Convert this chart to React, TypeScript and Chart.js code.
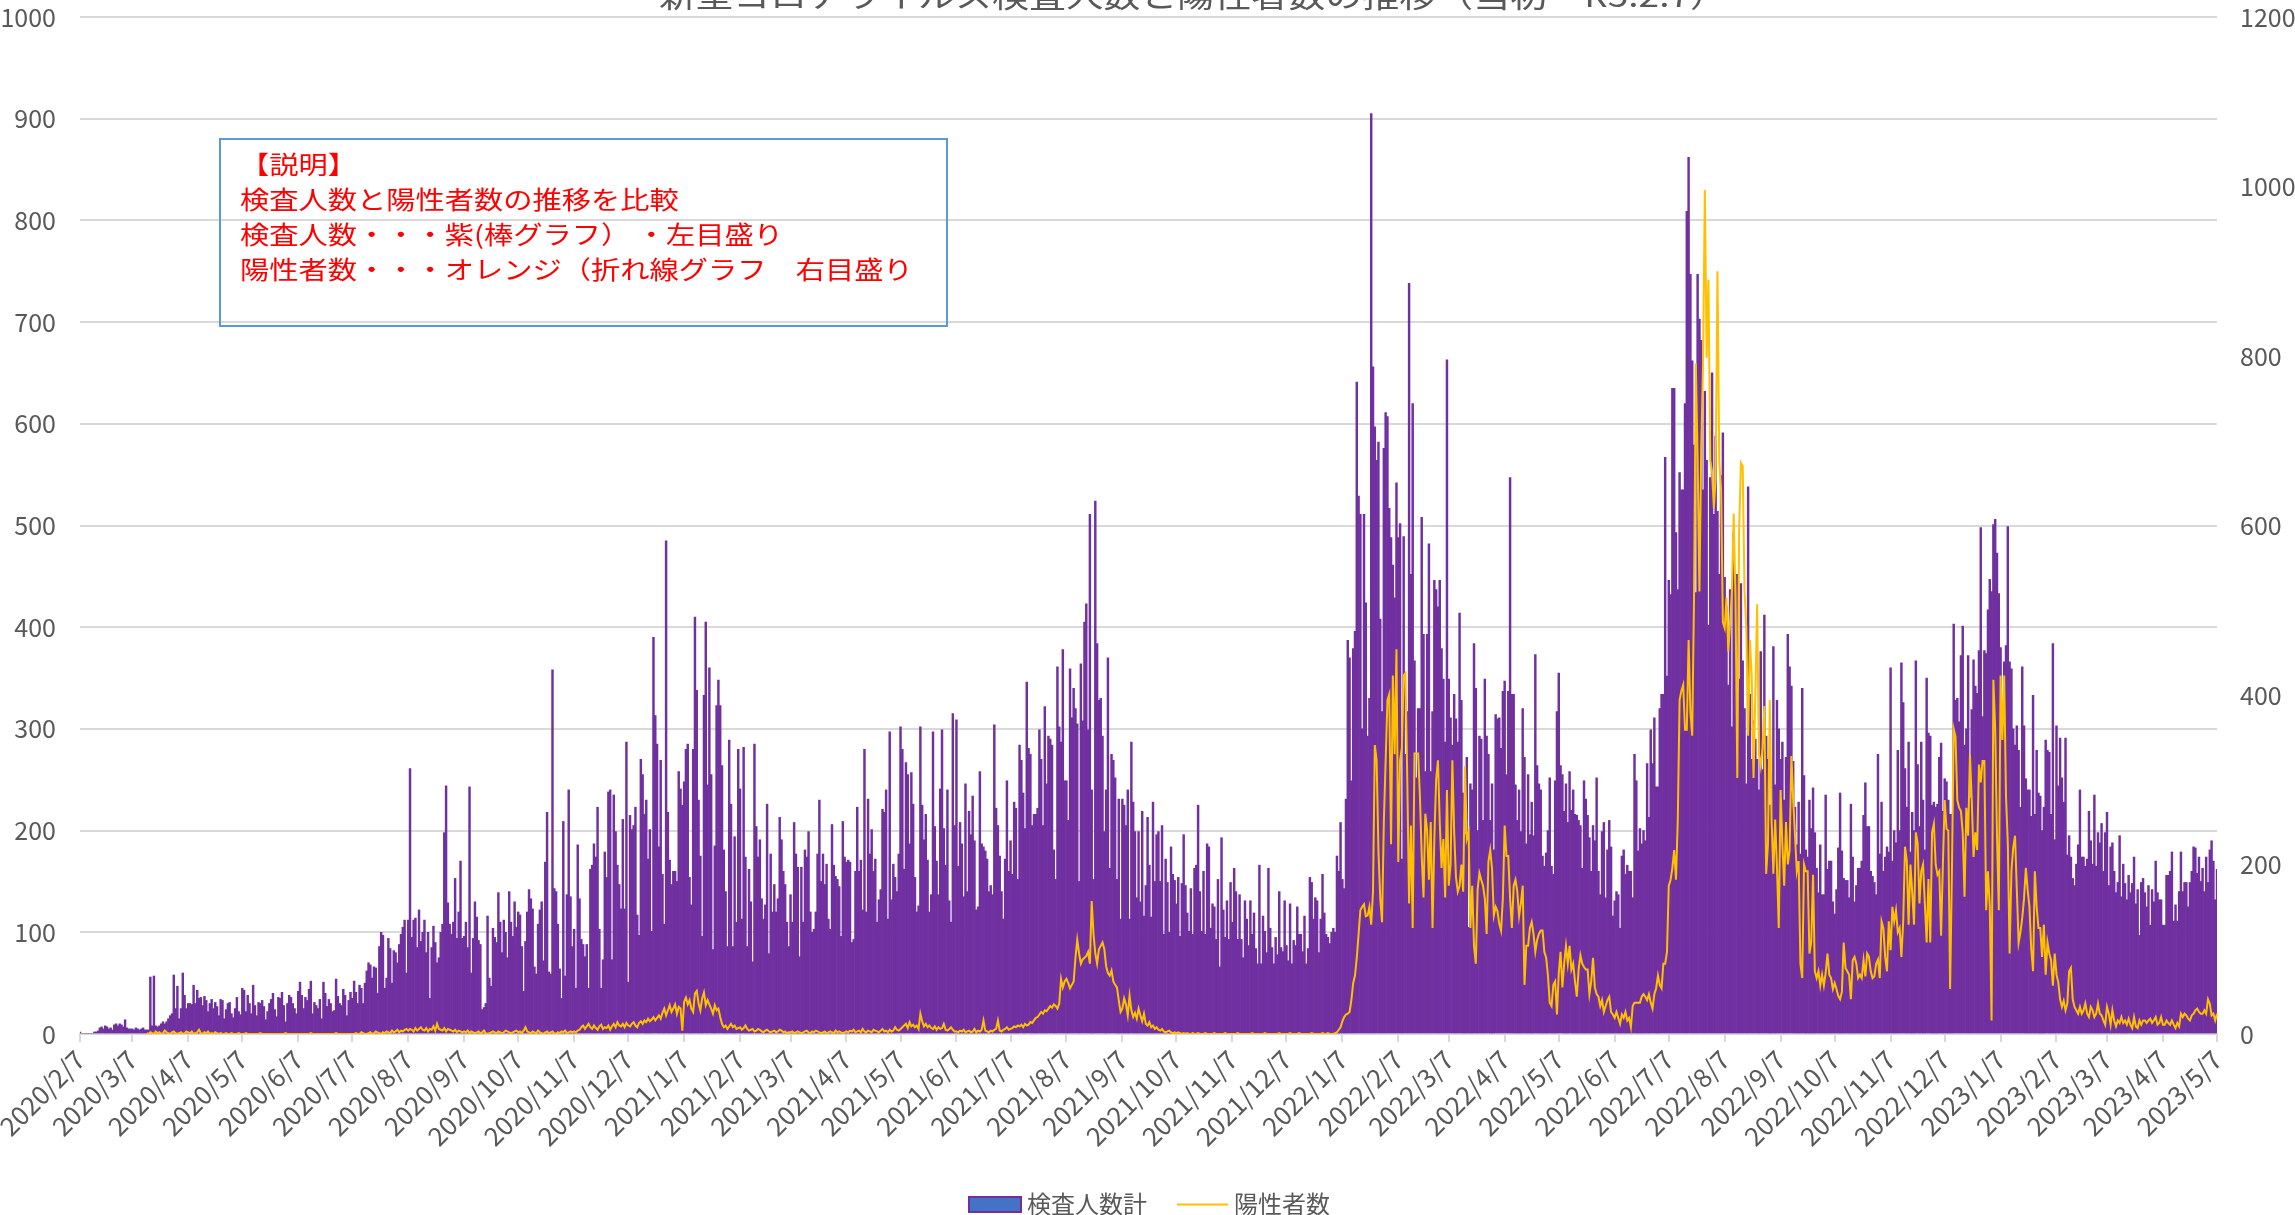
import React, { useEffect, useRef } from "react";
import { Chart, registerables } from "chart.js";

Chart.register(...registerables);

const FONT = '"Noto Sans CJK JP", "Noto Sans", sans-serif';
const TITLE = "新型コロナウイルス検査人数と陽性者数の推移（当初～R5.2.7）";
const NOTE_LINES = [
  "【説明】",
  "検査人数と陽性者数の推移を比較",
  "検査人数・・・紫(棒グラフ） ・左目盛り",
  "陽性者数・・・オレンジ（折れ線グラフ　右目盛り",
];
const SERIES_NAMES = ["検査人数計", "陽性者数"];

const tickLabels = [
  "2020/2/7", "2020/3/7", "2020/4/7", "2020/5/7", "2020/6/7", "2020/7/7", "2020/8/7", "2020/9/7",
  "2020/10/7", "2020/11/7", "2020/12/7", "2021/1/7", "2021/2/7", "2021/3/7", "2021/4/7", "2021/5/7",
  "2021/6/7", "2021/7/7", "2021/8/7", "2021/9/7", "2021/10/7", "2021/11/7", "2021/12/7", "2022/1/7",
  "2022/2/7", "2022/3/7", "2022/4/7", "2022/5/7", "2022/6/7", "2022/7/7", "2022/8/7", "2022/9/7",
  "2022/10/7", "2022/11/7", "2022/12/7", "2023/1/7", "2023/2/7", "2023/3/7", "2023/4/7", "2023/5/7",
];

// 検査人数計 (daily, left axis) — one array per month period (7th to 6th)
const t2020_02 = [2,0,0,0,0,0,0,0,2,2,3,6,7,5,8,7,5,6,4,9,10,8,10,9,7,14,6,5,5];
const t2020_03 = [5,4,6,5,4,5,6,4,4,4,56,8,57,8,7,8,10,12,10,12,15,18,20,58,25,47,15,25,60,38,25];
const t2020_04 = [30,30,29,48,30,43,35,36,28,37,33,22,30,34,25,31,27,18,34,33,15,24,30,31,20,16,25,36,22,19];
const t2020_05 = [45,43,22,38,30,20,48,28,18,31,30,33,27,14,22,30,34,40,24,17,36,35,41,28,12,30,38,36,30,25,20];
const t2020_06 = [42,51,38,25,36,33,44,52,20,31,28,25,34,15,51,40,27,34,30,22,23,54,37,30,28,44,38,18,33,41];
const t2020_07 = [35,52,41,30,48,45,30,50,62,70,68,55,66,65,40,86,100,97,45,55,94,84,50,82,80,70,88,98,105,112,60];
const t2020_08 = [112,261,95,112,114,85,122,91,100,112,80,100,35,85,106,90,70,75,100,108,198,244,129,108,98,110,153,94,120,170,94];
const t2020_09 = [96,110,85,243,60,94,130,115,92,88,24,26,30,116,55,47,104,95,90,139,110,80,112,100,75,140,110,96,130,105];
const t2020_10 = [120,117,86,42,91,120,142,133,123,66,59,108,122,130,72,169,218,61,59,358,143,140,108,64,35,209,57,137,240,135,86];
const t2020_11 = [103,45,186,133,93,88,76,88,45,162,166,187,174,223,103,45,73,179,154,238,240,73,235,199,166,147,123,211,123,287];
const t2020_12 = [51,215,201,205,223,117,97,270,255,216,230,172,201,101,390,313,285,184,269,157,108,485,218,171,147,160,160,150,258,241,225];
const t2021_01 = [248,280,285,154,127,280,410,338,230,175,96,333,405,245,360,255,83,185,323,348,323,264,181,140,86,289,226,86,194,110,280];
const t2021_02 = [241,113,282,174,86,162,130,71,285,204,174,191,133,113,127,226,79,177,120,147,120,133,213,191,160,147,110,86];
const t2021_03 = [137,110,208,177,164,76,164,110,181,174,199,120,100,103,120,177,230,150,177,147,167,113,103,206,166,155,152,145,96,209,174];
const t2021_04 = [169,171,169,90,93,160,223,160,171,122,280,120,231,177,201,160,172,110,132,142,221,218,240,113,297,132,167,154,140,177];
const t2021_05 = [302,280,162,267,255,187,257,226,154,120,126,302,225,191,216,171,120,137,297,204,170,137,241,299,202,166,240,131,110,315,205];
const t2021_06 = [309,165,208,187,135,246,140,219,196,234,190,122,125,258,187,184,180,172,140,146,137,304,222,205,175,140,113,172,249,160];
const t2021_07 = [190,157,228,222,152,284,269,237,202,346,281,275,205,216,216,222,299,270,205,322,246,293,290,284,181,152,361,302,287,378,249];
const t2021_08 = [249,210,359,311,340,320,305,150,364,308,405,423,299,511,240,152,524,384,328,330,293,199,240,370,163,275,269,252,152,231,113];
const t2021_09 = [231,225,205,240,113,287,228,199,134,199,130,219,116,146,213,166,115,228,150,196,199,150,205,98,172,149,100,184,157,151];
const t2021_10 = [128,154,96,148,196,146,119,101,143,98,163,166,225,140,101,160,98,187,184,104,128,125,93,152,66,193,122,95,131,93,149];
const t2021_11 = [110,163,140,93,137,93,75,131,113,87,131,98,119,84,69,166,69,116,101,80,163,104,85,69,95,78,140,85,81,131];
const t2021_12 = [87,72,128,69,92,87,125,98,98,81,116,69,84,154,149,113,134,131,80,113,157,119,98,95,89,100,104,100,175,160,208];
const t2022_01 = [152,143,231,387,370,249,379,396,641,529,511,300,511,424,293,330,905,656,597,564,582,408,317,576,611,607,517,488,461,429,542];
const t2022_02 = [488,502,172,489,275,317,738,452,620,367,252,320,320,508,393,258,393,482,258,317,446,437,420,446,379,349,287,663];
const t2022_03 = [349,311,284,334,310,287,414,328,237,196,272,105,246,240,384,340,200,293,290,210,349,293,275,210,246,181,314,310,311,281,337];
const t2022_04 = [347,255,337,547,334,334,245,210,240,199,320,272,187,255,196,228,195,373,264,246,240,175,165,178,200,252,165,157,249,317];
const t2022_05 = [355,264,255,219,246,208,258,220,240,216,215,210,205,163,249,231,215,193,160,205,190,252,160,137,199,208,134,181,210,184,116];
const t2022_06 = [131,140,137,104,175,181,157,166,160,160,134,275,249,180,202,187,200,190,266,213,299,266,311,243,243,320,334,334,567,352];
const t2022_07 = [446,432,635,635,493,437,552,535,535,620,809,862,747,662,579,434,747,703,682,535,632,564,402,547,650,511,588,514,452,549,591];
const t2022_08 = [449,420,343,437,302,493,429,452,349,443,367,320,246,538,334,270,308,290,270,240,376,260,412,293,270,225,225,381,245,328,300];
const t2022_09 = [270,287,230,272,393,361,342,268,223,186,228,177,340,254,181,174,230,202,242,198,163,139,186,137,137,235,162,170,170,130];
const t2022_10 = [118,142,183,237,180,153,151,151,134,226,174,130,146,163,163,170,215,247,204,204,160,155,149,137,275,177,228,160,174,184,179];
const t2022_11 = [360,170,200,188,279,200,365,326,261,223,287,179,218,200,367,265,204,287,230,181,350,296,293,225,228,223,226,272,286,219];
const t2022_12 = [251,248,230,216,216,403,328,330,307,372,401,284,300,372,232,319,368,342,335,377,498,312,377,374,417,447,435,501,506,473,433];
const t2023_01 = [380,307,366,382,499,366,359,300,284,303,279,223,361,303,251,240,240,214,333,216,279,237,234,200,223,289,279,277,216,384,191];
const t2023_02 = [303,244,291,252,228,291,176,195,174,153,146,167,186,240,174,174,165,172,219,190,167,235,165,198,188,207,160,198];
const t2023_03 = [218,146,184,188,160,139,149,195,135,167,148,132,156,139,148,174,128,142,97,149,153,139,125,146,107,142,130,170,139,132,132];
const t2023_04 = [107,107,156,156,160,179,111,127,111,140,179,140,149,149,125,149,160,184,183,158,174,150,163,140,174,149,181,190,170,132,162];

// 陽性者数 (daily, right axis)
const p2020_02 = [null,null,null,null,null,null,null,null,null,null,null,null,null,null,null,null,null,null,null,null,null,null,null,null,null,null,null,null,null];
const p2020_03 = [null,null,null,null,null,null,null,null,1,0,2,1,0,3,1,2,0,1,4,2,1,0,2,3,1,0,1,2,0,1,3];
const p2020_04 = [2,1,3,0,1,2,5,1,0,2,1,3,0,1,0,2,1,0,1,0,0,1,0,0,1,0,0,0,1,0];
const p2020_05 = [0,0,1,0,0,0,0,0,0,0,1,0,0,0,0,0,0,0,0,0,0,0,0,0,1,0,0,0,0,0,0];
const p2020_06 = [0,0,0,0,0,0,0,1,0,0,0,0,0,0,0,0,0,0,0,0,0,1,0,0,0,0,0,0,0,0];
const p2020_07 = [0,0,1,0,0,2,1,0,0,1,2,0,1,3,2,1,0,2,1,3,2,1,4,2,3,5,2,4,3,5,6];
const p2020_08 = [4,6,5,3,7,4,6,8,5,4,7,3,6,5,9,4,12,6,5,4,7,3,6,5,4,3,5,2,4,3,2];
const p2020_09 = [3,2,4,1,3,2,1,2,3,1,2,4,1,0,1,2,3,2,1,3,2,1,2,4,3,2,1,2,3,4];
const p2020_10 = [2,3,1,4,8,3,2,1,3,2,1,4,2,1,0,2,3,1,2,3,1,0,2,1,3,2,4,1,2,3,2];
const p2020_11 = [3,2,4,5,8,10,6,9,12,8,6,10,7,5,9,11,6,8,7,10,5,9,12,8,14,10,9,12,8,13];
const p2020_12 = [10,9,12,14,10,8,13,15,12,16,14,18,15,17,20,16,19,22,18,25,30,22,28,34,26,30,35,24,32,30,4];
const p2021_01 = [38,43,35,40,30,26,48,51,36,28,42,49,34,40,35,30,24,34,28,30,20,12,8,10,6,9,12,8,10,6,7];
const p2021_02 = [8,5,7,10,6,4,5,6,3,4,6,5,3,2,4,5,3,2,3,4,2,3,5,4,2,3,1,2];
const p2021_03 = [2,3,1,2,3,2,1,2,3,4,2,1,3,2,4,3,2,1,2,3,1,2,3,2,1,4,2,3,2,1,2];
const p2021_04 = [3,2,4,3,5,2,3,4,2,6,3,2,4,3,2,5,4,3,2,4,6,3,4,2,5,3,4,8,5,4];
const p2021_05 = [6,8,10,12,7,14,9,11,8,10,6,24,15,9,12,8,10,7,6,9,5,8,6,7,12,5,4,6,8,5,3];
const p2021_06 = [3,2,4,3,5,2,3,4,2,3,6,2,4,3,5,16,4,3,2,4,3,5,6,16,4,3,5,6,8,5];
const p2021_07 = [6,7,9,8,10,9,11,8,12,10,11,14,13,16,19,20,23,26,24,28,27,30,33,31,35,33,30,36,65,55,62];
const p2021_08 = [65,60,54,58,62,90,111,95,83,88,90,92,97,83,157,118,95,83,100,104,108,100,80,72,69,75,62,58,55,40,26];
const p2021_09 = [30,42,35,22,45,28,20,25,18,30,22,15,24,12,10,14,8,10,6,8,5,4,6,3,2,3,4,2,1,2];
const p2021_10 = [1,2,1,0,1,0,1,0,0,1,0,0,1,0,0,0,1,0,0,0,0,1,0,0,0,0,0,1,0,0,0];
const p2021_11 = [0,0,0,1,0,0,0,0,0,0,0,1,0,0,0,0,0,0,1,0,0,0,0,0,0,0,1,0,0,0];
const p2021_12 = [0,0,1,0,0,0,0,1,0,0,0,0,0,0,1,0,0,0,0,0,1,0,0,1,0,0,0,1,2,5,8];
const p2022_01 = [15,20,23,24,26,40,60,69,90,118,146,150,153,139,140,150,129,168,341,323,217,160,132,250,323,394,401,224,423,330,454];
const p2022_02 = [203,323,338,423,426,300,154,246,125,331,331,331,281,210,161,260,240,182,250,125,230,300,323,250,196,230,161,288];
const p2022_03 = [175,200,323,238,185,168,175,200,168,316,230,238,125,175,104,83,170,190,182,175,160,118,203,217,195,140,150,145,130,122,160];
const p2022_04 = [246,210,210,160,125,175,182,168,139,154,175,58,104,104,125,132,118,97,111,118,122,122,97,90,69,37,33,58,62,23];
const p2022_05 = [72,97,55,83,104,83,104,76,83,62,44,76,93,83,79,76,76,47,62,90,55,47,44,33,40,26,33,40,44,26,23];
const p2022_06 = [19,26,19,12,23,19,26,16,19,8,33,37,37,37,37,44,47,44,40,47,37,30,47,54,69,58,54,83,83,97];
const p2022_07 = [175,182,196,217,182,253,394,405,412,359,359,465,380,352,515,791,677,522,691,791,996,798,890,677,663,621,656,900,677,642,486];
const p2022_08 = [479,515,451,486,522,614,515,302,592,674,670,522,479,352,465,423,302,401,507,330,316,338,387,189,224,394,253,189,253,196,125];
const p2022_09 = [288,224,175,250,200,217,328,276,234,192,204,83,66,200,192,192,95,108,188,74,66,74,57,70,57,72,95,70,66,53];
const p2022_10 = [60,53,45,41,50,108,78,74,70,41,87,91,83,66,70,66,87,68,95,91,74,66,68,83,88,66,133,125,91,74,133];
const p2022_11 = [99,150,133,146,120,125,91,133,221,204,129,200,167,129,238,225,154,192,200,154,108,183,108,238,248,200,188,192,116,200];
const p2022_12 = [276,242,240,53,190,360,351,276,267,263,238,162,267,234,330,276,209,238,217,318,297,322,322,146,192,150,16,418,360,234,146];
const p2023_01 = [423,347,423,280,225,95,192,220,234,170,108,120,137,160,196,170,150,100,74,192,150,125,125,91,129,70,108,95,87,57,95];
const p2023_02 = [70,61,41,32,39,28,36,74,78,41,32,28,24,32,24,28,36,24,20,32,28,20,24,36,24,22,16,11];
const p2023_03 = [32,24,11,28,16,9,16,13,20,13,16,11,18,11,7,20,9,7,16,11,16,16,13,16,18,13,16,20,11,13,20];
const p2023_04 = [11,11,16,13,11,16,11,7,13,9,24,20,24,22,18,16,22,24,28,30,26,24,24,28,24,41,36,22,24,16,24];

const tests: number[] = [
  t2020_02, t2020_03, t2020_04, t2020_05, t2020_06, t2020_07, t2020_08, t2020_09, t2020_10, t2020_11, t2020_12,
  t2021_01, t2021_02, t2021_03, t2021_04, t2021_05, t2021_06, t2021_07, t2021_08, t2021_09, t2021_10, t2021_11, t2021_12,
  t2022_01, t2022_02, t2022_03, t2022_04, t2022_05, t2022_06, t2022_07, t2022_08, t2022_09, t2022_10, t2022_11, t2022_12,
  t2023_01, t2023_02, t2023_03, t2023_04,
].flat();

const positives: (number | null)[] = [
  p2020_02, p2020_03, p2020_04, p2020_05, p2020_06, p2020_07, p2020_08, p2020_09, p2020_10, p2020_11, p2020_12,
  p2021_01, p2021_02, p2021_03, p2021_04, p2021_05, p2021_06, p2021_07, p2021_08, p2021_09, p2021_10, p2021_11, p2021_12,
  p2022_01, p2022_02, p2022_03, p2022_04, p2022_05, p2022_06, p2022_07, p2022_08, p2022_09, p2022_10, p2022_11, p2022_12,
  p2023_01, p2023_02, p2023_03, p2023_04,
].flat();

// daily category labels from the first date
const dayLabels: string[] = tests.map((_, i) => {
  const d = new Date(2020, 1, 7 + i);
  return `${d.getFullYear()}/${d.getMonth() + 1}/${d.getDate()}`;
});
const tickIdx = tickLabels.map((l) => dayLabels.indexOf(l)).filter((i) => i >= 0);

const overlayPlugin = {
  id: "overlay",
  afterDraw(chart: any) {
    const ctx: CanvasRenderingContext2D = chart.ctx;
    // title (top is cut off)
    ctx.save();
    ctx.font = `30px ${FONT}`;
    ctx.fillStyle = "#595959";
    ctx.textBaseline = "alphabetic";
    ctx.textAlign = "center";
    const tw = ctx.measureText(TITLE).width;
    ctx.translate(1193, 7);
    ctx.scale(1068 / tw, 1);
    ctx.fillText(TITLE, 0, 0);
    ctx.restore();

    // note box
    ctx.save();
    ctx.strokeStyle = "#5B9BD5";
    ctx.lineWidth = 2;
    ctx.strokeRect(220, 139, 727, 187);
    ctx.font = `25px ${FONT}`;
    ctx.fillStyle = "#FF0000";
    ctx.textBaseline = "middle";
    ctx.textAlign = "left";
    NOTE_LINES.forEach((line, i) => {
      ctx.save();
      ctx.translate(240, 164 + i * 35);
      ctx.scale(1.17, 1);
      ctx.fillText(line, 0, 0);
      ctx.restore();
    });
    ctx.restore();

    // legend
    ctx.save();
    ctx.fillStyle = "#4472C4";
    ctx.fillRect(969, 1197, 52, 15);
    ctx.strokeStyle = "#7030A0";
    ctx.lineWidth = 2;
    ctx.strokeRect(969, 1197, 52, 15);
    ctx.strokeStyle = "#FFC000";
    ctx.beginPath();
    ctx.moveTo(1177, 1204.5);
    ctx.lineTo(1228, 1204.5);
    ctx.stroke();
    ctx.font = `24px ${FONT}`;
    ctx.fillStyle = "#595959";
    ctx.textBaseline = "middle";
    ctx.textAlign = "left";
    ctx.fillText(SERIES_NAMES[0], 1027, 1204);
    ctx.fillText(SERIES_NAMES[1], 1234, 1204);
    ctx.restore();
  },
};

export default function App() {
  const ref = useRef<HTMLCanvasElement>(null);
  useEffect(() => {
    if (!ref.current) return;
    const xFont = { family: FONT, size: 26 };
    const yFont = { family: FONT, size: 25 };
    const chart = new Chart(ref.current, {
      type: "bar",
      data: {
        labels: dayLabels,
        datasets: [
          {
            type: "line",
            label: SERIES_NAMES[1],
            data: positives,
            yAxisID: "y1",
            borderColor: "#FFC000",
            borderWidth: 2,
            pointRadius: 0,
            tension: 0,
            spanGaps: false,
            order: 0,
          } as any,
          {
            type: "bar",
            label: SERIES_NAMES[0],
            data: tests,
            yAxisID: "y",
            backgroundColor: "#7030A0",
            borderWidth: 0,
            barPercentage: 1,
            categoryPercentage: 1,
            order: 1,
          },
        ],
      },
      options: {
        responsive: false,
        devicePixelRatio: 1,
        animation: false,
        layout: { padding: { top: 17, left: 0, right: 0, bottom: 0 } },
        plugins: {
          legend: { display: false },
          tooltip: { enabled: false },
          title: { display: false },
        },
        scales: {
          x: {
            type: "category",
            offset: false,
            grid: {
              display: true,
              drawOnChartArea: false,
              drawTicks: true,
              tickLength: 8,
              color: "#D9D9D9",
              lineWidth: 2,
              offset: false,
            },
            border: { display: true, color: "#D9D9D9", width: 2 },
            ticks: {
              autoSkip: false,
              maxRotation: 45,
              minRotation: 45,
              color: "#595959",
              font: xFont,
              padding: 2,
            },
            afterBuildTicks: (axis: any) => {
              axis.ticks = tickIdx.map((v) => ({ value: v }));
            },
            afterFit: (axis: any) => {
              axis.height = 181;
            },
          },
          y: {
            position: "left",
            min: 0,
            max: 1000,
            ticks: { stepSize: 100, color: "#595959", font: yFont, padding: 24, callback: (v: any) => String(v) },
            grid: { color: "#D9D9D9", lineWidth: 2, drawTicks: false },
            border: { display: false },
            afterFit: (axis: any) => {
              axis.width = 80;
              axis.paddingTop = 0;
              axis.paddingBottom = 0;
            },
          },
          y1: {
            position: "right",
            min: 0,
            max: 1200,
            ticks: { stepSize: 200, color: "#595959", font: yFont, padding: 23, callback: (v: any) => String(v) },
            grid: { drawOnChartArea: false, drawTicks: false },
            border: { display: false },
            afterFit: (axis: any) => {
              axis.width = 78;
              axis.paddingTop = 0;
              axis.paddingBottom = 0;
            },
          },
        },
      } as any,
      plugins: [overlayPlugin],
    });
    return () => chart.destroy();
  }, []);

  return (
    <div style={{ position: "fixed", left: 0, top: 0, width: 2295, height: 1215, background: "#ffffff" }}>
      <canvas ref={ref} width={2295} height={1215} style={{ width: 2295, height: 1215, display: "block" }} />
    </div>
  );
}
